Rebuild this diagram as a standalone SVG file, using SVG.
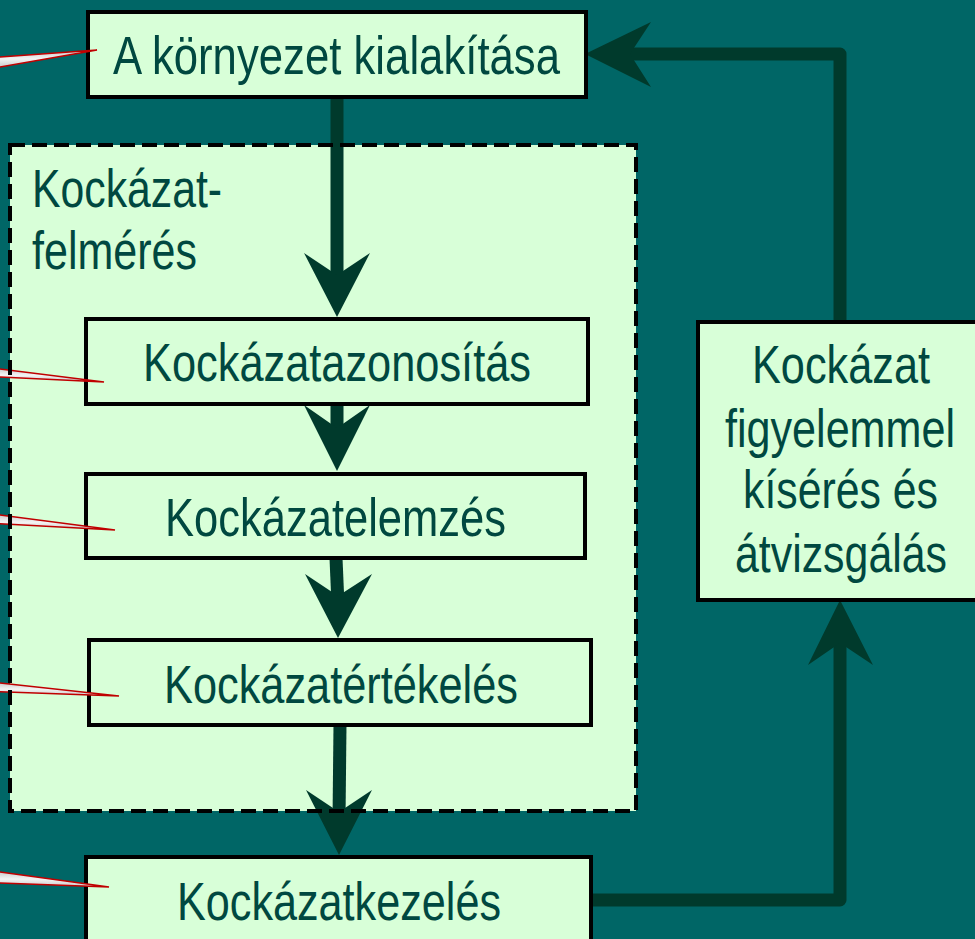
<svg xmlns="http://www.w3.org/2000/svg" width="975" height="939" viewBox="0 0 975 939">
<defs>
<style>
.box{fill:#D8FFD8;stroke:#000;stroke-width:4}
.t{font-family:"Liberation Sans",Arial,sans-serif;font-size:53px;fill:#004840}
.ln{fill:none;stroke:#003A2C;stroke-width:13;stroke-linejoin:round}
.hd{fill:#003A2C}
.co{fill:url(#cg);stroke:#C00000;stroke-width:1.5;stroke-linejoin:miter}
</style>
<linearGradient id="cg" x1="0" y1="0" x2="0" y2="1">
<stop offset="0" stop-color="#c8c8c8"/>
<stop offset="0.5" stop-color="#f4f4f4"/>
<stop offset="1" stop-color="#c8c8c8"/>
</linearGradient>
</defs>
<rect x="0" y="0" width="975" height="939" fill="#006666"/>

<g id="assessment-group">
<rect x="10" y="145" width="626" height="666" fill="#D8FFD8"/>
</g>

<g id="connectors">
<line class="ln" x1="337" y1="97" x2="337" y2="285"/>
<polygon class="hd" points="337,317 370,253 337,275 304,253"/>
<line class="ln" x1="337" y1="404" x2="337" y2="440"/>
<polygon class="hd" points="337,471 370,405 337,428 304,405"/>
<line class="ln" x1="336" y1="558" x2="338" y2="605"/>
<polygon class="hd" points="338,638 372,574 338,596 305,574"/>
<line class="ln" x1="340" y1="725" x2="339" y2="820"/>
<polygon class="hd" points="339,855 372,790 339,812 306,790"/>
<polyline class="ln" points="591,900 840,900 840,640"/>
<polygon class="hd" points="840,600 873,665 840,643 808,665"/>
<polyline class="ln" points="840,322 840,54 625,54"/>
<polygon class="hd" points="585,54 651,22 630,54 651,87"/>
</g>

<g id="env">
<rect class="box" x="88" y="12" width="498" height="85"/>
<text class="t" x="113" y="74" textLength="447" lengthAdjust="spacingAndGlyphs">A környezet kialakítása</text>
</g>

<g id="assessment-label">
<text class="t" x="32" y="207" textLength="190" lengthAdjust="spacingAndGlyphs">Kockázat-</text>
<text class="t" x="32" y="269" textLength="165" lengthAdjust="spacingAndGlyphs">felmérés</text>
</g>

<g id="identify">
<rect class="box" x="86" y="319" width="502" height="85"/>
<text class="t" x="143" y="381" textLength="388" lengthAdjust="spacingAndGlyphs">Kockázatazonosítás</text>
</g>

<g id="analyse">
<rect class="box" x="86" y="474" width="499" height="84"/>
<text class="t" x="165" y="536" textLength="341" lengthAdjust="spacingAndGlyphs">Kockázatelemzés</text>
</g>

<g id="evaluate">
<rect class="box" x="89" y="640" width="502" height="85"/>
<text class="t" x="164" y="703" textLength="354" lengthAdjust="spacingAndGlyphs">Kockázatértékelés</text>
</g>

<g id="treat">
<rect class="box" x="86" y="857" width="505" height="100"/>
<text class="t" x="177" y="920" textLength="324" lengthAdjust="spacingAndGlyphs">Kockázatkezelés</text>
</g>

<g id="monitor">
<rect class="box" x="698" y="322" width="290" height="278"/>
<text class="t" x="752" y="383" textLength="178" lengthAdjust="spacingAndGlyphs">Kockázat</text>
<text class="t" x="725" y="447" textLength="230" lengthAdjust="spacingAndGlyphs">figyelemmel</text>
<text class="t" x="743" y="508" textLength="195" lengthAdjust="spacingAndGlyphs">kísérés és</text>
<text class="t" x="735" y="572" textLength="212" lengthAdjust="spacingAndGlyphs">átvizsgálás</text>
</g>

<g id="callouts">
<polygon class="co" points="-5,57.4 97,50 -5,67.8"/>
<polygon class="co" points="-5,368.4 104,382 -5,376.7"/>
<polygon class="co" points="-5,514.4 115,530 -5,523.6"/>
<polygon class="co" points="-5,682.4 119,696 -5,691.6"/>
<polygon class="co" points="-5,871.3 109,887 -5,882.7"/>
</g>

<g id="assessment-border">
<rect x="10" y="145" width="626" height="666" fill="none" stroke="#000" stroke-width="4" stroke-dasharray="15 7"/>
</g>
</svg>
